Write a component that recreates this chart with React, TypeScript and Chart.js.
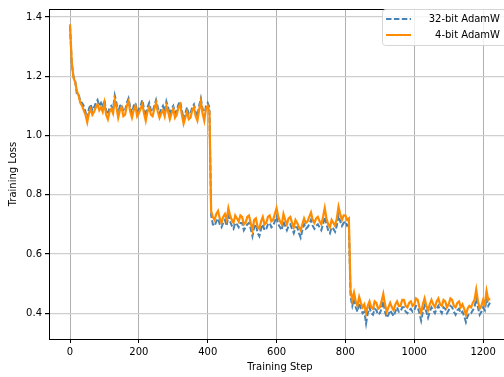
import React, { useEffect, useRef } from "react";
import { Chart, registerables } from "chart.js";

Chart.register(...registerables);

const steps: number[] = Array.from({ length: 245 }, (_, i) => i * 5);

const loss32: number[] = [
  // steps 0 - 405
  1.370, 1.245, 1.200, 1.185, 1.140, 1.140, 1.115, 1.110, 1.100, 1.080,
  1.060, 1.090, 1.105, 1.085, 1.095, 1.110, 1.120, 1.100, 1.110, 1.095,
  1.120, 1.085, 1.070, 1.095, 1.100, 1.090, 1.135, 1.110, 1.075, 1.100,
  1.105, 1.080, 1.085, 1.110, 1.125, 1.095, 1.075, 1.100, 1.110, 1.080,
  1.090, 1.100, 1.120, 1.090, 1.065, 1.095, 1.110, 1.085, 1.080, 1.100,
  1.120, 1.095, 1.075, 1.090, 1.100, 1.080, 1.115, 1.095, 1.070, 1.090,
  1.100, 1.075, 1.085, 1.105, 1.115, 1.085, 1.055, 1.075, 1.095, 1.070,
  1.075, 1.095, 1.105, 1.080, 1.065, 1.100, 1.125, 1.090, 1.065, 1.100,
  1.110, 1.095,
  // steps 410 - 810
  0.730, 0.700, 0.695, 0.710, 0.720, 0.700, 0.690, 0.705, 0.715, 0.695,
  0.730, 0.710, 0.695, 0.685, 0.705, 0.700, 0.690, 0.705, 0.705, 0.680,
  0.690, 0.700, 0.705, 0.685, 0.660, 0.690, 0.700, 0.670, 0.660, 0.685,
  0.700, 0.680, 0.685, 0.700, 0.705, 0.690, 0.695, 0.710, 0.725, 0.700,
  0.690, 0.680, 0.710, 0.695, 0.680, 0.695, 0.700, 0.685, 0.670, 0.690,
  0.690, 0.670, 0.655, 0.680, 0.700, 0.685, 0.690, 0.700, 0.715, 0.695,
  0.685, 0.695, 0.700, 0.690, 0.680, 0.700, 0.725, 0.700, 0.680, 0.670,
  0.690, 0.685, 0.675, 0.695, 0.730, 0.710, 0.695, 0.705, 0.710, 0.695,
  0.700,
  // steps 815 - 1220
  0.455, 0.425, 0.450, 0.420, 0.405, 0.435, 0.415, 0.400, 0.405, 0.365,
  0.400, 0.420, 0.400, 0.395, 0.415, 0.410, 0.395, 0.400, 0.415, 0.440,
  0.405, 0.385, 0.395, 0.410, 0.400, 0.390, 0.405, 0.420, 0.405, 0.405,
  0.420, 0.420, 0.405, 0.400, 0.410, 0.415, 0.405, 0.410, 0.425, 0.420,
  0.400, 0.375, 0.405, 0.425, 0.405, 0.385, 0.405, 0.420, 0.410, 0.400,
  0.415, 0.425, 0.410, 0.400, 0.420, 0.415, 0.400, 0.410, 0.425, 0.420,
  0.405, 0.395, 0.410, 0.415, 0.400, 0.405, 0.390, 0.370, 0.390, 0.400,
  0.400, 0.410, 0.420, 0.450, 0.420, 0.395, 0.405, 0.420, 0.410, 0.450,
  0.425, 0.435,
];

const loss4: number[] = [
  // steps 0 - 405
  1.375, 1.250, 1.195, 1.180, 1.150, 1.135, 1.110, 1.100, 1.085, 1.070,
  1.045, 1.075, 1.090, 1.070, 1.080, 1.095, 1.105, 1.085, 1.095, 1.080,
  1.110, 1.070, 1.055, 1.080, 1.090, 1.075, 1.120, 1.095, 1.060, 1.085,
  1.095, 1.065, 1.070, 1.100, 1.115, 1.080, 1.060, 1.085, 1.100, 1.065,
  1.075, 1.090, 1.105, 1.075, 1.050, 1.080, 1.095, 1.070, 1.065, 1.090,
  1.110, 1.080, 1.060, 1.075, 1.085, 1.065, 1.100, 1.080, 1.055, 1.075,
  1.090, 1.060, 1.070, 1.095, 1.105, 1.070, 1.040, 1.060, 1.080, 1.055,
  1.060, 1.085, 1.095, 1.065, 1.050, 1.085, 1.115, 1.075, 1.050, 1.090,
  1.100, 1.080,
  // steps 410 - 810
  0.745, 0.725, 0.715, 0.735, 0.745, 0.720, 0.705, 0.725, 0.735, 0.715,
  0.755, 0.730, 0.715, 0.705, 0.730, 0.720, 0.710, 0.730, 0.725, 0.700,
  0.705, 0.725, 0.730, 0.705, 0.680, 0.715, 0.720, 0.690, 0.685, 0.710,
  0.725, 0.700, 0.705, 0.725, 0.730, 0.710, 0.715, 0.735, 0.755, 0.725,
  0.710, 0.700, 0.735, 0.715, 0.700, 0.720, 0.725, 0.705, 0.690, 0.715,
  0.705, 0.690, 0.680, 0.700, 0.720, 0.705, 0.710, 0.725, 0.740, 0.715,
  0.705, 0.720, 0.725, 0.710, 0.700, 0.725, 0.755, 0.720, 0.700, 0.690,
  0.715, 0.705, 0.695, 0.720, 0.760, 0.735, 0.715, 0.730, 0.730, 0.715,
  0.720,
  // steps 815 - 1220
  0.475, 0.445, 0.470, 0.440, 0.425, 0.455, 0.435, 0.420, 0.430, 0.400,
  0.425, 0.440, 0.420, 0.415, 0.440, 0.435, 0.415, 0.420, 0.440, 0.465,
  0.430, 0.405, 0.420, 0.435, 0.420, 0.410, 0.430, 0.440, 0.425, 0.425,
  0.445, 0.445, 0.425, 0.420, 0.435, 0.440, 0.425, 0.430, 0.450, 0.445,
  0.420, 0.400, 0.430, 0.450, 0.425, 0.410, 0.430, 0.445, 0.430, 0.420,
  0.440, 0.450, 0.430, 0.425, 0.445, 0.440, 0.420, 0.430, 0.450, 0.445,
  0.425, 0.420, 0.435, 0.440, 0.420, 0.430, 0.415, 0.395, 0.415, 0.425,
  0.420, 0.435, 0.445, 0.480, 0.440, 0.415, 0.425, 0.445, 0.430, 0.475,
  0.445, 0.450,
];

const seriesLabels = ["32-bit AdamW", "4-bit AdamW"];
const xTitle = "Training Step";
const yTitle = "Training Loss";

const FONT = "'DejaVu Sans', sans-serif";

const frameAndLegend = {
  id: "frameAndLegend",
  afterDraw(chart: any) {
    const { ctx, chartArea } = chart;
    ctx.save();
    ctx.strokeStyle = "#000";
    ctx.lineWidth = 1;
    ctx.beginPath();
    ctx.moveTo(chartArea.left, chartArea.top + 0.5);
    ctx.lineTo(chartArea.right, chartArea.top + 0.5);
    ctx.moveTo(chartArea.right - 0.5, chartArea.top);
    ctx.lineTo(chartArea.right - 0.5, chartArea.bottom);
    ctx.stroke();

    // legend
    const bx = 382.5, by = 9.5, bw = 130, bh = 36, r = 3;
    ctx.beginPath();
    ctx.moveTo(bx + r, by);
    ctx.lineTo(bx + bw - r, by);
    ctx.arcTo(bx + bw, by, bx + bw, by + r, r);
    ctx.lineTo(bx + bw, by + bh - r);
    ctx.arcTo(bx + bw, by + bh, bx + bw - r, by + bh, r);
    ctx.lineTo(bx + r, by + bh);
    ctx.arcTo(bx, by + bh, bx, by + bh - r, r);
    ctx.lineTo(bx, by + r);
    ctx.arcTo(bx, by, bx + r, by, r);
    ctx.closePath();
    ctx.fillStyle = "rgba(255,255,255,0.8)";
    ctx.fill();
    ctx.strokeStyle = "#d6d6d6";
    ctx.lineWidth = 1;
    ctx.stroke();

    ctx.lineWidth = 2;
    ctx.strokeStyle = "#4682b4";
    ctx.setLineDash([5.5, 2.4]);
    ctx.beginPath();
    ctx.moveTo(386, 19);
    ctx.lineTo(411, 19);
    ctx.stroke();
    ctx.setLineDash([]);
    ctx.strokeStyle = "#ff8c00";
    ctx.beginPath();
    ctx.moveTo(386, 35);
    ctx.lineTo(411, 35);
    ctx.stroke();

    ctx.fillStyle = "#000";
    ctx.font = `10px ${FONT}`;
    ctx.textBaseline = "middle";
    ctx.textAlign = "right";
    ctx.fillText(seriesLabels[0], 500, 19);
    ctx.fillText(seriesLabels[1], 500, 35);
    ctx.restore();
  },
};

export default function App() {
  const ref = useRef<HTMLCanvasElement | null>(null);
  useEffect(() => {
    document.body.style.margin = "0";
    const canvas = ref.current;
    if (!canvas) return;
    const chart = new Chart(canvas, {
      type: "line",
      data: {
        labels: steps,
        datasets: [
          {
            label: seriesLabels[0],
            data: steps.map((s, i) => ({ x: s, y: loss32[i] })),
            borderColor: "#4682b4",
            borderWidth: 2,
            borderDash: [5.5, 2.4],
            pointRadius: 0,
            tension: 0,
            order: 2,
          },
          {
            label: seriesLabels[1],
            data: steps.map((s, i) => ({ x: s, y: loss4[i] })),
            borderColor: "#ff8c00",
            borderWidth: 2.2,
            pointRadius: 0,
            tension: 0,
            order: 1,
          },
        ],
      },
      options: {
        responsive: false,
        animation: false,
        layout: { padding: { top: 4, right: 1, left: 0, bottom: 0 } },
        plugins: { legend: { display: false }, tooltip: { enabled: false } },
        scales: {
          x: {
            type: "linear",
            min: -61,
            max: 1281,
            afterFit: (s: any) => { s.height = 38; },
            ticks: {
              stepSize: 200,
              includeBounds: false,
              color: "#000",
              font: { family: FONT, size: 10 },
              padding: 3,
              maxRotation: 0,
              callback: (v: any) => String(v),
            },
            grid: { color: "#b0b0b0", lineWidth: 1, tickLength: 4, tickColor: "#000" },
            border: { display: true, color: "#000", width: 1 },
            title: {
              display: true,
              text: xTitle,
              color: "#000",
              font: { family: FONT, size: 10 },
              padding: { top: 0, bottom: 4 },
            },
          },
          y: {
            type: "linear",
            min: 0.313,
            max: 1.427,
            afterFit: (s: any) => { s.width = 49; },
            ticks: {
              stepSize: 0.2,
              includeBounds: false,
              color: "#000",
              font: { family: FONT, size: 10 },
              padding: 3,
              callback: (v: any) => Number(v).toFixed(1),
            },
            grid: { color: "#cfcfcf", lineWidth: 1.2, tickLength: 4, tickColor: "#000" },
            border: { display: true, color: "#000", width: 1 },
            title: {
              display: true,
              text: yTitle,
              color: "#000",
              font: { family: FONT, size: 10 },
              padding: { top: 7, bottom: 0 },
            },
          },
        },
      },
      plugins: [frameAndLegend],
    });
    return () => chart.destroy();
  }, []);
  return (
    <div style={{ width: 504, height: 377, overflow: "hidden", background: "#fff" }}>
      <canvas ref={ref} width={512} height={377} style={{ display: "block" }} />
    </div>
  );
}
